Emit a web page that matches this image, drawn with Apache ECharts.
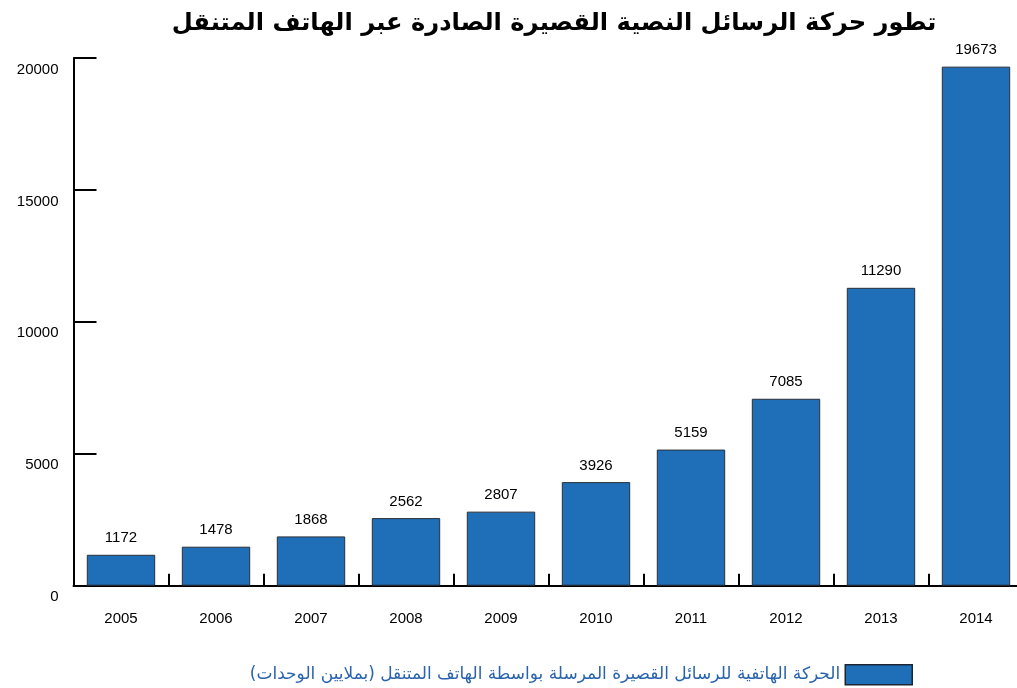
<!DOCTYPE html>
<html>
<head>
<meta charset="utf-8">
<script src="https://cdn.jsdelivr.net/npm/echarts@6/dist/echarts.min.js"></script>
<style>
  html, body { margin: 0; padding: 0; background: #ffffff; }
  #chart { width: 1017px; height: 688px; }
</style>
</head>
<body>
<div id="chart"></div>
<script>
// Years on the horizontal axis
const years = ['2005', '2006', '2007', '2008', '2009', '2010', '2011', '2012', '2013', '2014'];
// SMS traffic sent via mobile phone (millions of units)
const smsTraffic = [1172, 1478, 1868, 2562, 2807, 3926, 5159, 7085, 11290, 19673];
// Value-axis ticks
const yTicks = [0, 5000, 10000, 15000, 20000];

const chartTitle = 'تطور حركة الرسائل النصية القصيرة الصادرة عبر الهاتف المتنقل';
const seriesName = 'الحركة الهاتفية للرسائل القصيرة المرسلة بواسطة الهاتف المتنقل (بملايين الوحدات)';

const latin = "'Liberation Sans', Arial, sans-serif";
const arabic = "'DejaVu Sans', sans-serif";

const chart = echarts.init(document.getElementById('chart'), null, { renderer: 'canvas' });

chart.setOption({
  animation: false,
  backgroundColor: '#ffffff',
  title: {
    text: chartTitle,
    left: 549,
    textAlign: 'center',
    top: 7,
    textStyle: { fontFamily: arabic, fontWeight: 'bold', fontSize: 24.2, color: '#000000' }
  },
  legend: {
    data: [seriesName],
    right: 99,
    top: 659,
    align: 'right',
    icon: 'rect',
    itemWidth: 67,
    itemHeight: 20,
    itemGap: 12,
    textStyle: { fontFamily: arabic, fontSize: 17, color: '#2a63ad' },
    itemStyle: { borderColor: '#1c2533', borderWidth: 1.5 }
  },
  grid: {
    left: 73.5,
    top: 58,
    width: 950,
    bottom: 102.3,
    containLabel: false,
    outerBoundsMode: 'none'
  },
  xAxis: {
    type: 'category',
    data: years,
    axisLine: { lineStyle: { color: '#000000', width: 2 } },
    axisTick: { show: true, inside: true, length: 12, alignWithLabel: false, lineStyle: { color: '#000000', width: 2 } },
    axisLabel: { fontFamily: latin, fontSize: 15, color: '#000000', margin: 26 }
  },
  yAxis: {
    type: 'value',
    min: yTicks[0],
    max: yTicks[yTicks.length - 1],
    interval: yTicks[1] - yTicks[0],
    splitLine: { show: false },
    axisLine: { show: true, lineStyle: { color: '#000000', width: 2 } },
    axisTick: { show: true, inside: true, length: 23, lineStyle: { color: '#000000', width: 2 } },
    axisLabel: {
      fontFamily: latin, fontSize: 15, color: '#000000', margin: 15,
      verticalAlign: 'top',
      lineHeight: 23,
      formatter: (v) => String(v)
    }
  },
  series: [{
    name: seriesName,
    type: 'bar',
    data: smsTraffic,
    barCategoryGap: '28%',
    itemStyle: { color: '#1f6fb8', borderColor: '#2a2f36', borderWidth: 1 },
    label: {
      show: true,
      position: 'top',
      distance: 9,
      fontFamily: latin,
      fontSize: 15,
      color: '#000000'
    }
  }]
});
</script>
</body>
</html>
